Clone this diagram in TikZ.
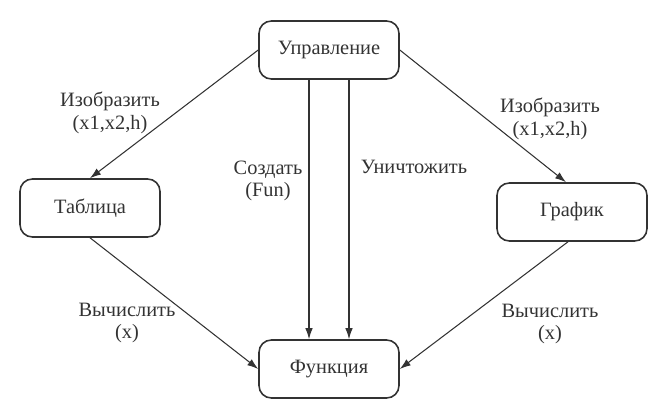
\documentclass[tikz,border=0pt]{standalone}
\usepackage{fontspec}
\setmainfont{Liberation Serif}
\usetikzlibrary{arrows.meta}
\definecolor{tinta}{rgb}{0.2,0.2,0.2}
\tikzset{
  bloque/.style={
    rounded corners=7pt,
    draw=tinta,
    line width=0.9pt,
    align=center,
    minimum width=2.8cm,
    minimum height=1.16cm,
    inner sep=3pt,
    text=tinta,
    font=\fontsize{11.6}{13}\selectfont
  },
  etiqueta/.style={
    align=center,
    inner sep=0pt,
    text=tinta,
    font=\fontsize{11.6}{13}\selectfont
  },
  arrow/.style={
    -{Latex[length=2.2mm,width=1.5mm]},
    line width=0.6pt,
    tinta
  }
}

\begin{document}
\begin{tikzpicture}[x=0.02cm,y=-0.02cm]
\useasboundingbox (0,0) rectangle (666,419);
\node[bloque] (upr) at (329,50) {Управление};
\node[bloque] (tab) at (90,208) {Таблица};
\node[bloque,minimum width=3cm] (graf) at (572,212) {График};
\node[bloque] (fun) at (329,369) {Функция};
% etiquetas
\node[etiqueta] (izq) at (110,113) {Изобразить\\(x1,x2,h)};
\node[etiqueta] (der) at (550,119) {Изобразить\\(x1,x2,h)};
\node[etiqueta] (crear) at (268,181) {Создать\\(Fun)};
\node[etiqueta] (borrar) at (414,167) {Уничтожить};
\node[etiqueta] (calcizq) at (127,323) {Вычислить\\(x)};
\node[etiqueta] (calcder) at (550,324) {Вычислить\\(x)};
% flechas
\draw[arrow] (upr.west) -- (tab.north);
\draw[arrow] (upr.east) -- ([xshift=-0.12cm]graf.north);
\draw[arrow] ([xshift=-0.4cm]upr.south) -- ([xshift=-0.4cm]fun.north);
\draw[arrow] ([xshift=0.4cm]upr.south) -- ([xshift=0.4cm]fun.north);
\draw[arrow] (tab.south) -- (fun.west);
\draw[arrow] ([xshift=-0.08cm]graf.south) -- (fun.east);
\end{tikzpicture}
\end{document}
